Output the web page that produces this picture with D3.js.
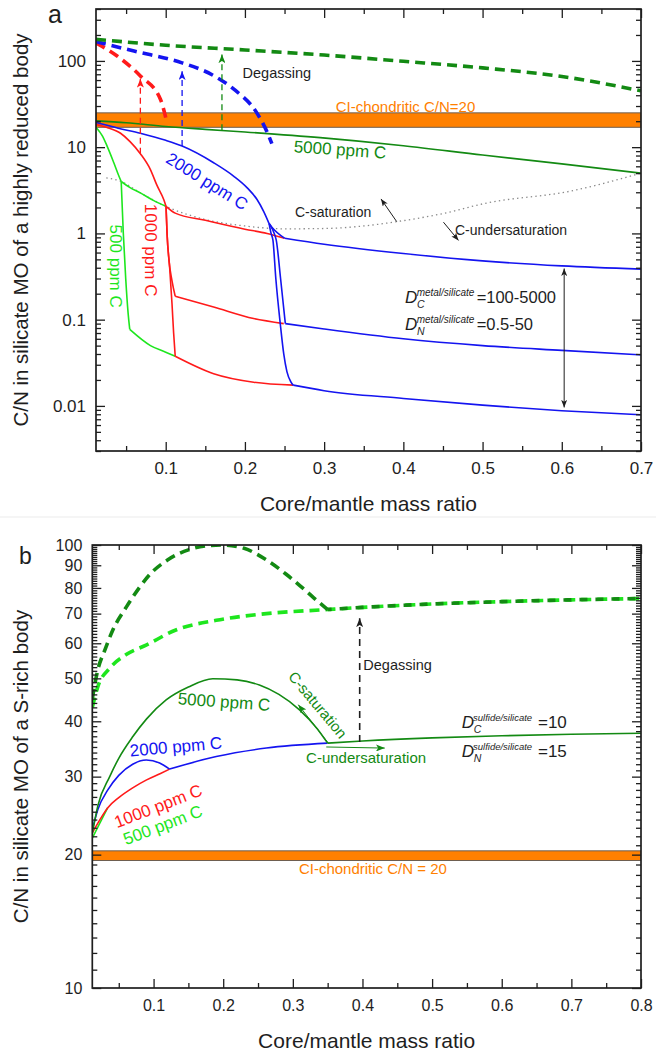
<!DOCTYPE html>
<html>
<head>
<meta charset="utf-8">
<script src="https://cdn.jsdelivr.net/npm/d3@7"></script>
<style>
  html, body { margin: 0; padding: 0; background: #fff; }
  svg { display: block; }
</style>
</head>
<body>
<svg id="chart" width="656" height="1055"></svg>
<script>
(function () {
  'use strict';

  // ---------- panel a data (x = core/mantle mass ratio, y = C/N) ----------
  var aXTicks = [0.1, 0.2, 0.3, 0.4, 0.5, 0.6, 0.7];
  var aYTicks = [0.01, 0.1, 1, 10, 100];
  var aBand = [17, 25];

  var a5000 = [[0.012, 20.2], [0.05, 19.2], [0.1, 17.4], [0.15, 16.1], [0.2, 15], [0.295, 12.9],
               [0.4, 10.4], [0.5, 8.1], [0.6, 6.4], [0.7, 5.0]];
  var a5000Degas = [[0.012, 178], [0.1, 152], [0.2, 134], [0.3, 117], [0.4, 99], [0.5, 83],
                    [0.6, 66], [0.7, 45]];

  var a2000Main = [[0.012, 19.3], [0.04, 16.6], [0.068, 14.5], [0.1, 12], [0.1207, 10.3],
                   [0.1605, 6.6], [0.186, 4.6], [0.2026, 3.4], [0.2153, 2.47], [0.2236, 1.8],
                   [0.2305, 1.3]];
  var a2000UpBend = [[0.2305, 1.3], [0.234, 1.18], [0.25, 0.88]];
  var a2000Up = [[0.25, 0.88], [0.3, 0.75], [0.4, 0.585], [0.5, 0.48], [0.6, 0.42], [0.7, 0.385]];
  var a2000MidDrop = [[0.2305, 1.3], [0.237, 1.0], [0.2396, 0.83], [0.245, 0.3], [0.251, 0.09]];
  var a2000Mid = [[0.251, 0.09], [0.3, 0.078], [0.4, 0.06], [0.5, 0.05], [0.6, 0.044], [0.7, 0.039]];
  var a2000LowDrop = [[0.2305, 1.3], [0.233, 1.0], [0.2354, 0.83], [0.239, 0.3], [0.2446, 0.09],
                      [0.249, 0.04], [0.253, 0.025], [0.258, 0.019], [0.261, 0.0174]];
  var a2000Low = [[0.261, 0.0174], [0.3, 0.015], [0.4, 0.0122], [0.5, 0.0102], [0.6, 0.0088], [0.7, 0.0079]];
  var a2000Degas = [[0.012, 168], [0.06, 130], [0.1207, 95], [0.16, 68], [0.186, 47], [0.215, 25],
                    [0.228, 15], [0.234, 11]];

  var a1000Main = [[0.012, 18.4], [0.025, 17], [0.043, 14.5], [0.055, 11.6], [0.068, 8.4],
                   [0.0807, 5.5], [0.089, 3.6], [0.0975, 2.47], [0.1004, 2.06]];
  var a1000Up = [[0.1004, 2.06], [0.112, 1.72], [0.15, 1.42], [0.2, 1.12], [0.228, 1.0], [0.25, 0.88]];
  var a1000MidDrop = [[0.1004, 2.06], [0.1017, 1.0], [0.104, 0.5], [0.108, 0.28], [0.112, 0.187]];
  var a1000Mid = [[0.112, 0.187], [0.1605, 0.14], [0.211, 0.103], [0.249, 0.09]];
  var a1000LowDrop = [[0.1004, 2.06], [0.1017, 1.0], [0.105, 0.4], [0.108, 0.15], [0.11, 0.07], [0.112, 0.0376]];
  var a1000Low = [[0.112, 0.0376], [0.1605, 0.0236], [0.211, 0.0188], [0.261, 0.0174]];
  var a1000Degas = [[0.012, 162], [0.0387, 114], [0.068, 67], [0.0933, 36], [0.1017, 19]];

  var a500Main = [[0.012, 17], [0.02, 13.5], [0.026, 10.3], [0.0345, 6.6], [0.041, 4.6], [0.0438, 4.0]];
  var a500Up = [[0.0438, 4.0], [0.055, 3.4], [0.068, 2.95], [0.085, 2.4], [0.1004, 2.06]];
  var a500Drop = [[0.0438, 4.0], [0.0465, 1.0], [0.0495, 0.3], [0.0525, 0.12], [0.0546, 0.077]];
  var a500Low = [[0.0546, 0.077], [0.0807, 0.05], [0.1, 0.042], [0.112, 0.0376]];

  var aSaturation = [[0.025, 4.4], [0.0438, 4.0], [0.068, 2.95], [0.1004, 2.06], [0.15, 1.45],
                     [0.2, 1.22], [0.25, 1.13], [0.3, 1.14], [0.35, 1.22], [0.392, 1.37],
                     [0.45, 1.7], [0.505, 2.25], [0.61, 3.08], [0.7, 5.0]];

  // degassing arrows: x, foot, tip
  var aDegasX = [0.068, 0.1207, 0.171];
  var aDegasFrom = [8.4, 10.3, 15.7];
  var aDegasTo = [62, 76, 119];

  // ---------- panel b data ----------
  var bXTicks = [0.1, 0.2, 0.3, 0.4, 0.5, 0.6, 0.7, 0.8];
  var bYTicks = [10, 20, 30, 40, 50, 60, 70, 80, 90, 100];
  var bBand = [19.4, 20.4];

  var b5000 = [[0.012, 22.3], [0.02, 25.8], [0.037, 30], [0.05, 33], [0.07, 36.9], [0.09, 40.5],
               [0.118, 44.7], [0.15, 47.8], [0.185, 49.9], [0.22, 49.6], [0.252, 48.3],
               [0.28, 46], [0.31, 42.4], [0.335, 38.5], [0.35, 35.7]];
  var bUnder = [[0.35, 35.7], [0.4, 36.1], [0.5, 36.7], [0.6, 37.1], [0.7, 37.4], [0.8, 37.6]];
  var b2000 = [[0.012, 22.8], [0.02, 25.3], [0.0343, 28], [0.05, 30.2], [0.07, 32], [0.0895, 32.7],
               [0.1086, 32.2], [0.123, 31.2]];
  var b2000Tail = [[0.123, 31.2], [0.19, 33.3], [0.262, 34.8], [0.35, 35.7]];
  var b1000 = [[0.012, 22.4], [0.023, 24.0], [0.034, 25.5], [0.05, 26.9], [0.07, 28.3], [0.09, 29.5],
               [0.11, 30.5], [0.123, 31.2]];
  var b500 = [[0.012, 21.8], [0.023, 23.6], [0.034, 25.5]];
  var b5000Degas = [[0.012, 45], [0.015, 47.9], [0.02, 52.3], [0.03, 57.9], [0.0415, 64.3], [0.061, 72.5],
                    [0.08, 80.3], [0.094, 85.6], [0.12, 92.5], [0.15, 97.5], [0.18, 99.7], [0.2, 100],
                    [0.23, 98.3], [0.26, 93], [0.29, 86], [0.31, 81], [0.33, 76], [0.35, 71.5]];
  var bDegasTail = [[0.35, 71.5], [0.4, 72.3], [0.5, 73.6], [0.6, 74.5], [0.7, 75.2], [0.8, 75.7]];
  var b500Degas = [[0.012, 43], [0.02, 47.9], [0.037, 52.7], [0.06, 56.5], [0.09, 59.5], [0.132, 64.3],
                   [0.19, 67.6], [0.262, 70], [0.35, 71.5]];

  // ---------- styles ----------
  var FONT = 'Arial, "Liberation Sans", Helvetica, sans-serif';
  var ink = '#1e1e1e';
  var col = { dark: '#138a13', blue: '#1414f0', red: '#ff1a1a', light: '#1ee61e', orange: '#ff8000' };

  var svg = d3.select('#chart').attr('font-family', FONT);

  // scales
  var xa = d3.scaleLinear().domain([0.012, 0.7]).range([96, 641]);
  var ya = d3.scaleLog().domain([0.003, 400]).range([451, 9]);
  var xb = d3.scaleLinear().domain([0.012, 0.8]).range([92.3, 641]);
  var yb = d3.scaleLog().domain([10, 100]).range([988, 545]);

  // arrow markers
  var defs = svg.append('defs');
  function marker(id, color, len, wid) {
    defs.append('marker')
      .attr('id', id)
      .attr('viewBox', '0 0 10 8')
      .attr('refX', 10).attr('refY', 4)
      .attr('markerUnits', 'userSpaceOnUse')
      .attr('markerWidth', len).attr('markerHeight', wid)
      .attr('orient', 'auto-start-reverse')
      .append('path')
      .attr('d', 'M0,0L10,4L0,8L2.5,4Z')
      .attr('fill', color);
  }
  marker('ar-red', col.red, 9, 7);
  marker('ar-blue', col.blue, 9, 7);
  marker('ar-dark', col.dark, 9, 7);
  marker('ar-ink', ink, 9, 7);
  marker('ar-ink-s', ink, 8, 6);

  function clip(id, x, y) {
    defs.append('clipPath').attr('id', id).append('rect')
      .attr('x', x.range()[0]).attr('y', y.range()[1])
      .attr('width', x.range()[1] - x.range()[0])
      .attr('height', y.range()[0] - y.range()[1]);
  }
  clip('clip-a', xa, ya);
  clip('clip-b', xb, yb);

  function curve(g, x, y, data, color, width, dash, offset) {
    var gen = d3.line()
      .x(function (d) { return x(d[0]); })
      .y(function (d) { return y(d[1]); })
      .curve(d3.curveMonotoneX);
    return g.append('path')
      .attr('d', gen(data))
      .attr('fill', 'none')
      .attr('stroke', color)
      .attr('stroke-width', width)
      .attr('stroke-dasharray', dash || null)
      .attr('stroke-dashoffset', offset || null)
      .attr('stroke-linejoin', 'round');
  }

  function label(g, txt, px, py, o) {
    g.append('text')
      .attr('x', px).attr('y', py)
      .attr('text-anchor', o.anchor || 'middle')
      .attr('dominant-baseline', 'central')
      .attr('font-size', o.size)
      .attr('fill', o.color)
      .attr('transform', o.rot ? 'rotate(' + o.rot + ',' + px + ',' + py + ')' : null)
      .text(txt);
  }

  function dLabel(g, px, py, sup, sub, rhs, o) {
    g.append('text').attr('x', px).attr('y', py).attr('font-size', 17)
      .attr('font-style', 'italic').attr('fill', ink).text('D');
    g.append('text').attr('x', px + o.supDx).attr('y', py - 7).attr('font-size', o.supSize)
      .attr('font-style', 'italic').attr('fill', ink).text(sup);
    g.append('text').attr('x', px + 12).attr('y', py + 5).attr('font-size', 10.5)
      .attr('font-style', 'italic').attr('fill', ink).text(sub);
    g.append('text').attr('x', px + o.rhsDx).attr('y', py).attr('font-size', o.rhsSize)
      .attr('fill', ink).text(rhs);
  }

  function frameAxes(g, x, y, o) {
    var x0 = x.range()[0], x1 = x.range()[1];
    var yBot = y.range()[0], yTop = y.range()[1];
    function add(axis, tx, ty) {
      return g.append('g').attr('transform', 'translate(' + tx + ',' + ty + ')').call(axis);
    }
    var none = function () { return ''; };
    add(d3.axisBottom(x).tickValues(o.xMinor).tickSize(-5).tickFormat(none), 0, yBot);
    add(d3.axisBottom(x).tickValues(o.xMajor).tickSize(-9).tickPadding(o.xPad)
      .tickFormat(function (d) { return String(d); }), 0, yBot);
    add(d3.axisTop(x).tickValues(o.xMinor).tickSize(-5).tickFormat(none), 0, yTop);
    add(d3.axisTop(x).tickValues(o.xMajor).tickSize(-9).tickFormat(none), 0, yTop);
    add(d3.axisLeft(y).tickValues(o.yMinor).tickSize(-5).tickFormat(none), x0, 0);
    add(d3.axisLeft(y).tickValues(o.yMajor).tickSize(-9).tickPadding(o.yPad)
      .tickFormat(function (d) { return String(d); }), x0, 0);
    add(d3.axisRight(y).tickValues(o.yMinor).tickSize(-5).tickFormat(none), x1, 0);
    add(d3.axisRight(y).tickValues(o.yMajor).tickSize(-9).tickFormat(none), x1, 0);
    g.selectAll('.domain').remove();
    g.selectAll('.tick line').attr('stroke', ink).attr('stroke-width', 1.3);
    g.selectAll('.tick text').attr('font-family', FONT).attr('font-size', o.fs).attr('fill', ink);
    g.append('rect')
      .attr('x', x0).attr('y', yTop).attr('width', x1 - x0).attr('height', yBot - yTop)
      .attr('fill', 'none').attr('stroke', ink).attr('stroke-width', 1.7);
  }

  // ======================= PANEL A =======================
  var ga = svg.append('g');
  var pa = ga.append('g').attr('clip-path', 'url(#clip-a)');

  pa.append('rect')
    .attr('x', xa.range()[0]).attr('width', xa.range()[1] - xa.range()[0])
    .attr('y', ya(aBand[1])).attr('height', ya(aBand[0]) - ya(aBand[1]))
    .attr('fill', col.orange).attr('stroke', '#6e5e50').attr('stroke-width', 1);

  curve(pa, xa, ya, aSaturation, '#8a8a8a', 1.3, '1.4,3.2');

  [a500Main, a500Up, a500Drop, a500Low].forEach(function (d) { curve(pa, xa, ya, d, col.light, 1.6); });
  [a1000Main, a1000Up, a1000MidDrop, a1000Mid, a1000LowDrop, a1000Low].forEach(function (d) {
    curve(pa, xa, ya, d, col.red, 1.6);
  });
  [a2000Main, a2000UpBend, a2000Up, a2000MidDrop, a2000Mid, a2000LowDrop, a2000Low].forEach(function (d) {
    curve(pa, xa, ya, d, col.blue, 1.6);
  });
  curve(pa, xa, ya, a5000, col.dark, 1.6);

  curve(pa, xa, ya, a1000Degas, col.red, 3.6, '10,6');
  curve(pa, xa, ya, a2000Degas, col.blue, 3.6, '10,6');
  curve(pa, xa, ya, a5000Degas, col.dark, 3.6, '10,6');

  var degasCols = [col.red, col.blue, col.dark];
  var degasIds = ['ar-red', 'ar-blue', 'ar-dark'];
  aDegasX.forEach(function (xv, i) {
    ga.append('line')
      .attr('x1', xa(xv)).attr('x2', xa(xv))
      .attr('y1', ya(aDegasFrom[i])).attr('y2', ya(aDegasTo[i]))
      .attr('stroke', degasCols[i]).attr('stroke-width', 1.3)
      .attr('stroke-dasharray', '6,4')
      .attr('marker-end', 'url(#' + degasIds[i] + ')');
  });

  // saturation arrows
  ga.append('line')
    .attr('x1', xa(0.3916)).attr('y1', ya(1.37)).attr('x2', xa(0.3718)).attr('y2', ya(2.51))
    .attr('stroke', ink).attr('stroke-width', 1).attr('marker-end', 'url(#ar-ink-s)');
  ga.append('line')
    .attr('x1', xa(0.4506)).attr('y1', ya(1.35)).attr('x2', xa(0.4696)).attr('y2', ya(0.83))
    .attr('stroke', ink).attr('stroke-width', 1).attr('marker-end', 'url(#ar-ink-s)');

  // D range double arrow
  ga.append('line')
    .attr('x1', xa(0.603)).attr('x2', xa(0.603))
    .attr('y1', ya(0.392)).attr('y2', ya(0.0096))
    .attr('stroke', ink).attr('stroke-width', 1)
    .attr('marker-start', 'url(#ar-ink-s)').attr('marker-end', 'url(#ar-ink-s)');

  label(ga, 'CI-chondritic C/N=20', xa(0.4027), ya(26.0) - 5, { size: 15, color: col.orange });
  label(ga, 'Degassing', xa(0.197), ya(71.9), { size: 14.5, color: ink, anchor: 'start' });
  label(ga, '5000 ppm C', xa(0.32), ya(9.3), { size: 17, color: col.dark, rot: 4 });
  label(ga, '2000 ppm C', xa(0.152), ya(3.99), { size: 17, color: col.blue, rot: 32 });
  label(ga, '1000 ppm C', xa(0.0814), ya(0.64), { size: 17, color: col.red, rot: 90 });
  label(ga, '500 ppm C', xa(0.0372), ya(0.417), { size: 17, color: col.light, rot: 90 });
  label(ga, 'C-saturation', xa(0.2632), ya(1.79), { size: 14, color: ink, anchor: 'start' });
  label(ga, 'C-undersaturation', xa(0.4652), ya(1.105), { size: 14, color: ink, anchor: 'start' });

  var dax = xa(0.402), day = ya(0.155);
  dLabel(ga, dax, day, 'metal/silicate', 'C', '=100-5000', { supDx: 11.7, supSize: 10, rhsDx: 71.7, rhsSize: 16.5 });
  dLabel(ga, dax, day + 27, 'metal/silicate', 'N', '=0.5-50', { supDx: 11.7, supSize: 10, rhsDx: 71.7, rhsSize: 16.5 });

  var aYMinor = [];
  [0.001, 0.01, 0.1, 1, 10, 100].forEach(function (b) {
    for (var m = 2; m <= 9; m++) {
      var v = m * b;
      if (v >= 0.003 - 1e-9 && v <= 400 + 1e-9) aYMinor.push(v);
    }
  });
  frameAxes(ga, xa, ya, {
    xMajor: aXTicks, xMinor: d3.range(0.05, 0.7, 0.1), xPad: 11,
    yMajor: aYTicks, yMinor: aYMinor, yPad: 10, fs: 17
  });

  ga.append('text').attr('x', 48).attr('y', 23).attr('font-size', 25).attr('fill', ink).text('a');
  ga.append('text')
    .attr('transform', 'translate(20,' + ((ya.range()[0] + ya.range()[1]) / 2) + ') rotate(-90)')
    .attr('text-anchor', 'middle').attr('dominant-baseline', 'central')
    .attr('font-size', 20.5).attr('fill', ink)
    .text('C/N in silicate MO of a highly reduced body');
  ga.append('text')
    .attr('x', (xa.range()[0] + xa.range()[1]) / 2).attr('y', 503)
    .attr('text-anchor', 'middle').attr('dominant-baseline', 'central')
    .attr('font-size', 21).attr('fill', ink)
    .text('Core/mantle mass ratio');

  // panel separator
  svg.append('line').attr('x1', 0).attr('x2', 656).attr('y1', 517).attr('y2', 517)
    .attr('stroke', '#ebebeb').attr('stroke-width', 1);

  // ======================= PANEL B =======================
  var gb = svg.append('g');
  var pb = gb.append('g').attr('clip-path', 'url(#clip-b)');

  pb.append('rect')
    .attr('x', xb.range()[0]).attr('width', xb.range()[1] - xb.range()[0])
    .attr('y', yb(bBand[1])).attr('height', yb(bBand[0]) - yb(bBand[1]))
    .attr('fill', col.orange).attr('stroke', '#6e5e50').attr('stroke-width', 1);

  curve(pb, xb, yb, b500, col.light, 1.6);
  curve(pb, xb, yb, b1000, col.red, 1.6);
  curve(pb, xb, yb, b2000, col.blue, 1.6);
  curve(pb, xb, yb, b2000Tail, col.blue, 1.6);
  curve(pb, xb, yb, b5000, col.dark, 1.6);
  curve(pb, xb, yb, bUnder, col.dark, 1.6);

  curve(pb, xb, yb, b500Degas.concat(bDegasTail.slice(1)), col.light, 3.6, '10,6');
  curve(pb, xb, yb, b5000Degas, col.dark, 3.6, '10,6');
  curve(pb, xb, yb, bDegasTail, col.dark, 3.6, '8,8', 4);

  // degassing arrow
  gb.append('line')
    .attr('x1', xb(0.396)).attr('x2', xb(0.396))
    .attr('y1', yb(35.9)).attr('y2', yb(68.3))
    .attr('stroke', ink).attr('stroke-width', 1.6).attr('stroke-dasharray', '7,5')
    .attr('marker-end', 'url(#ar-ink)');

  // saturation arrows
  gb.append('line')
    .attr('x1', xb(0.351)).attr('y1', yb(35.7)).attr('x2', xb(0.3078)).attr('y2', yb(43.6))
    .attr('stroke', col.dark).attr('stroke-width', 1).attr('marker-end', 'url(#ar-dark)');
  gb.append('line')
    .attr('x1', xb(0.348)).attr('y1', yb(35.0)).attr('x2', xb(0.432)).attr('y2', yb(34.8))
    .attr('stroke', col.dark).attr('stroke-width', 1).attr('marker-end', 'url(#ar-dark)');

  label(gb, 'CI-chondritic C/N = 20', xb(0.415), yb(18.6), { size: 15, color: col.orange });
  label(gb, 'Degassing', xb(0.4012), yb(53.6), { size: 14.5, color: ink, anchor: 'start' });
  label(gb, '5000 ppm C', xb(0.2011), yb(44.2), { size: 17, color: col.dark, rot: 4 });
  label(gb, '2000 ppm C', xb(0.1322), yb(35.0), { size: 17, color: col.blue, rot: -5 });
  label(gb, '1000 ppm C', xb(0.1068), yb(25.7), { size: 17, color: col.red, rot: -21 });
  label(gb, '500 ppm C', xb(0.1135), yb(23.3), { size: 17, color: col.light, rot: -21 });
  label(gb, 'C-saturation', xb(0.336), yb(43.6), { size: 15, color: col.dark, rot: 50 });
  label(gb, 'C-undersaturation', xb(0.319), yb(33.1), { size: 15, color: col.dark, anchor: 'start' });

  var dbx = xb(0.5425), dby = yb(38.6);
  dLabel(gb, dbx, dby, 'sulfide/silicate', 'C', '=10', { supDx: 11.3, supSize: 9.5, rhsDx: 76.3, rhsSize: 17 });
  dLabel(gb, dbx, dby + 28.4, 'sulfide/silicate', 'N', '=15', { supDx: 11.3, supSize: 9.5, rhsDx: 76.3, rhsSize: 17 });

  var bYMinor = d3.range(11, 100).filter(function (v) { return v % 10 !== 0; });
  frameAxes(gb, xb, yb, {
    xMajor: bXTicks, xMinor: d3.range(0.05, 0.8, 0.1), xPad: 12,
    yMajor: bYTicks, yMinor: bYMinor, yPad: 10, fs: 16
  });

  gb.append('text').attr('x', 19).attr('y', 564).attr('font-size', 23).attr('fill', ink).text('b');
  gb.append('text')
    .attr('transform', 'translate(20,' + ((yb.range()[0] + yb.range()[1]) / 2) + ') rotate(-90)')
    .attr('text-anchor', 'middle').attr('dominant-baseline', 'central')
    .attr('font-size', 20.5).attr('fill', ink)
    .text('C/N in silicate MO of a S-rich body');
  gb.append('text')
    .attr('x', (xb.range()[0] + xb.range()[1]) / 2).attr('y', 1040)
    .attr('text-anchor', 'middle').attr('dominant-baseline', 'central')
    .attr('font-size', 21).attr('fill', ink)
    .text('Core/mantle mass ratio');
})();
</script>
</body>
</html>
